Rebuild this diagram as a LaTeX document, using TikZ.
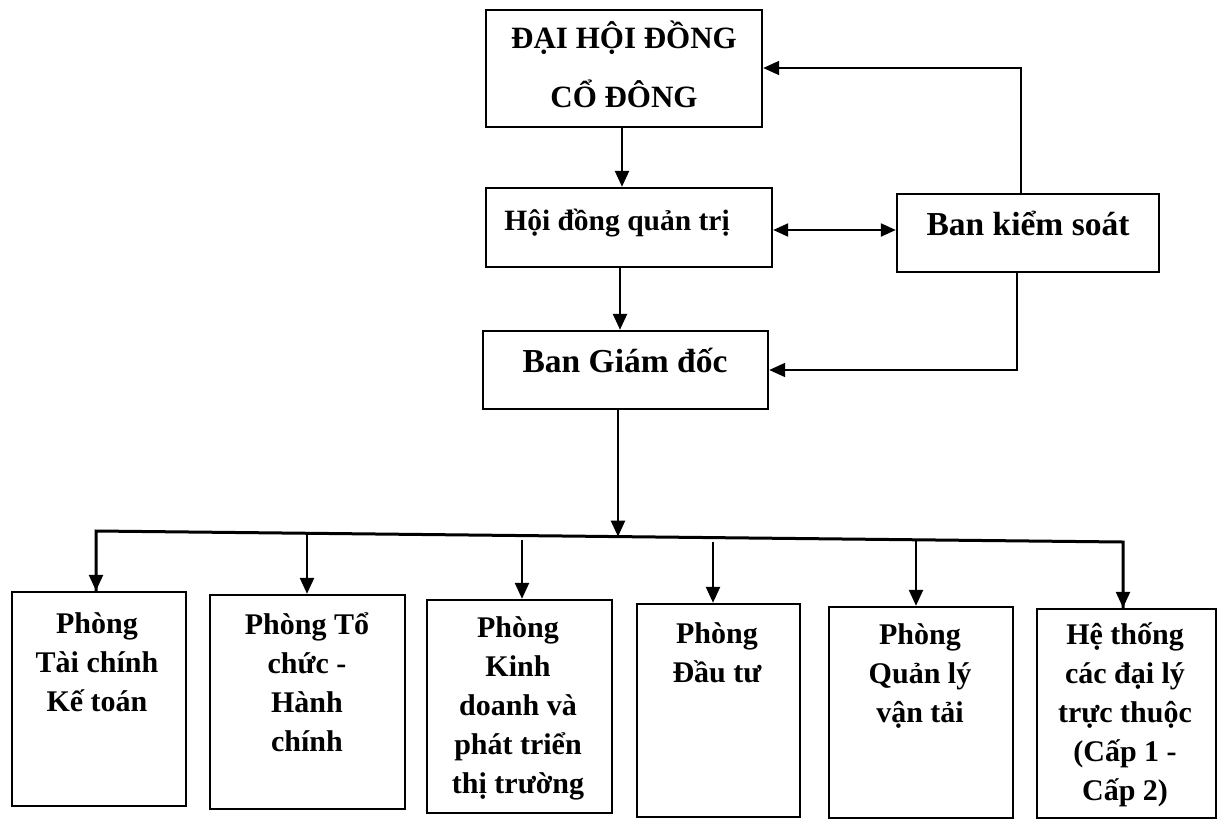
\documentclass[tikz,border=0pt]{standalone}
\usepackage{fontspec}
\setmainfont{Liberation Serif}
\usetikzlibrary{arrows.meta}
\begin{document}
\begin{tikzpicture}[x=1pt,y=-1pt,
  box/.style={draw, line width=2.4pt, inner sep=0pt},
  lbl/.style={font=\bfseries\fontsize{30}{39}\selectfont, align=center, inner sep=0pt, anchor=base},
  arr/.style={line width=2.4pt, -{Triangle[length=16pt,width=14pt]}},
  fb/.style={line width=1.8pt, -{Triangle[length=16pt,width=14pt]}},
  dbl/.style={line width=2.2pt, {Triangle[length=15pt,width=13pt]}-{Triangle[length=15pt,width=13pt]}}]
\useasboundingbox (0,0) rectangle (1217,819);
\fill[white] (0,0) rectangle (1217,819);
% boxes
\node[box, minimum width=276pt, minimum height=117pt] (dh) at (624,68.5) {};
\node[box, minimum width=286pt, minimum height=79pt] (hd) at (629,227.5) {};
\node[box, minimum width=262pt, minimum height=78pt] (bk) at (1028,233) {};
\node[box, minimum width=285pt, minimum height=78pt] (bg) at (625.5,370) {};
\node[box, minimum width=174pt, minimum height=214pt] (p1) at (99,699) {};
\node[box, minimum width=195pt, minimum height=214pt] (p2) at (307.5,702) {};
\node[box, minimum width=185pt, minimum height=213pt] (p3) at (519.5,706.5) {};
\node[box, minimum width=163pt, minimum height=213pt] (p4) at (718.5,710.5) {};
\node[box, minimum width=184pt, minimum height=211pt] (p5) at (921,712.5) {};
\node[box, minimum width=179pt, minimum height=209pt] (p6) at (1126.5,713.5) {};
% texts (base = last line's baseline)
\node[lbl, font=\bfseries\fontsize{31}{59}\selectfont] (tdh) at (624,107) {ĐẠI HỘI ĐỒNG\\CỔ ĐÔNG};
\node[lbl, font=\bfseries\fontsize{29.5}{39}\selectfont] (thd) at (617,230) {Hội đồng quản trị};
\node[lbl, font=\bfseries\fontsize{33.5}{39}\selectfont] (tbk) at (1028,235) {Ban kiểm soát};
\node[lbl, font=\bfseries\fontsize{33.5}{39}\selectfont] (tbg) at (625,372) {Ban Giám đốc};
\node[lbl] (tp1) at (97,711) {Phòng\\Tài chính\\Kế toán};
\node[lbl] (tp2) at (307,751) {Phòng Tổ\\chức -\\Hành\\chính};
\node[lbl] (tp3) at (518,793) {Phòng\\Kinh\\doanh và\\phát triển\\thị trường};
\node[lbl] (tp4) at (717,682) {Phòng\\Đầu tư};
\node[lbl] (tp5) at (920,722) {Phòng\\Quản lý\\vận tải};
\node[lbl] (tp6) at (1125,800) {Hệ thống\\các đại lý\\trực thuộc\\(Cấp 1 -\\Cấp 2)};
% helper coordinates
\coordinate (c0) at (622,0);
\coordinate (c1) at (620,0);
\coordinate (c2) at (618,536.6);
\coordinate (v1) at (1021,0);
\coordinate (v2) at (1017,0);
\coordinate (r1) at (0,230);
\coordinate (r2) at (0,68);
\coordinate (r3) at (0,370);
\coordinate (busL) at (96,531);
\coordinate (busR) at (1123,542);
\coordinate (d2) at (307,533.3);
\coordinate (d3) at (522,539.5);
\coordinate (d4) at (713,541.5);
\coordinate (d5) at (916,539.8);
% connectors
\draw[arr] (dh.south -| c0) -- (hd.north -| c0);
\draw[arr] (hd.south -| c1) -- (bg.north -| c1);
\draw[dbl] (hd.east |- r1) -- (bk.west |- r1);
\draw[fb] (bk.north -| v1) |- (dh.east |- r2);
\draw[fb] (bk.south -| v2) |- (bg.east |- r3);
\draw[arr] (bg.south -| c2) -- (c2);
\draw[line width=3pt, line join=miter] (p1.north -| busL) -- (busL) -- (busR) -- (p6.north -| busR);
\draw[arr] (busL) -- (p1.north -| busL);
\draw[arr] (d2) -- (p2.north -| d2);
\draw[arr] (d3) -- (p3.north -| d3);
\draw[arr] (d4) -- (p4.north -| d4);
\draw[arr] (d5) -- (p5.north -| d5);
\draw[arr] (busR) -- (p6.north -| busR);
\end{tikzpicture}
\end{document}
